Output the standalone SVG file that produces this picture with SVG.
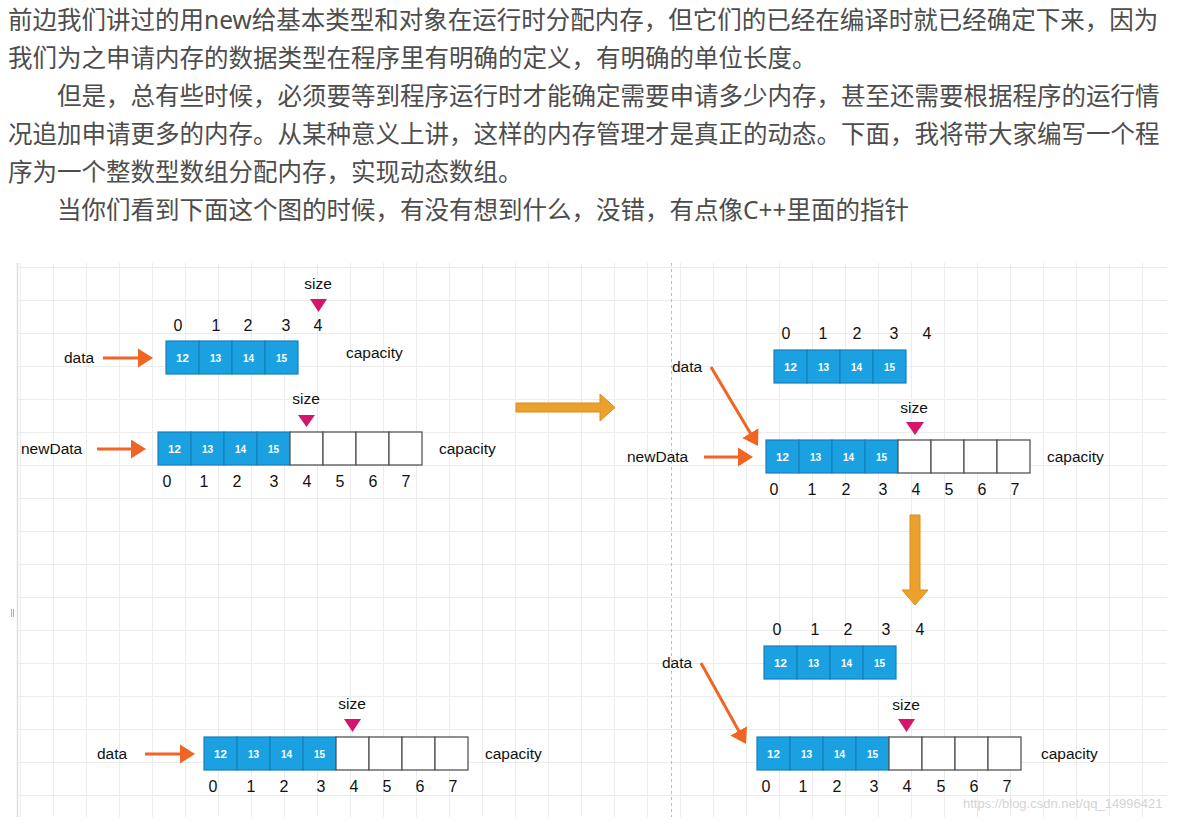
<svg xmlns="http://www.w3.org/2000/svg" width="1184" height="836" viewBox="0 0 1184 836">
<style>
.para{font-family:"Noto Sans","Noto Sans CJK SC",sans-serif;font-size:24.5px;fill:#4d4d4d}
.lbl{font-family:"Liberation Sans",Arial,sans-serif;font-size:15.5px;fill:#111}
.idx{font-family:"Liberation Sans",Arial,sans-serif;font-size:16px;fill:#111;text-anchor:middle}
.cell{fill:#1ba1e2;stroke:#1481bd;stroke-width:1.2}
.empty{fill:#fff;stroke:#555;stroke-width:1.3}
.num{font-family:"Liberation Sans",Arial,sans-serif;font-size:10px;fill:#fff;text-anchor:middle;font-weight:bold}
.num0{font-size:11.5px}
.tri{fill:#d4156b}
.ptr{stroke:#f06424;stroke-width:3;fill:none}
.big{fill:#eda12d;stroke:#d98c1c;stroke-width:1}
</style>
<defs>
<pattern id="grid" patternUnits="userSpaceOnUse" x="20" y="267" width="33" height="33">
<path d="M0.5 0 V33 M0 0.5 H33" stroke="#ececec" stroke-width="1" fill="none"/>
</pattern>
<marker id="oh" viewBox="0 -10 16 20" markerWidth="16" markerHeight="20" refX="6" refY="0" orient="auto" markerUnits="userSpaceOnUse">
<path d="M0,-9.5 L15,0 L0,9.5 z" fill="#f06424"/>
</marker>
</defs>
<rect width="1184" height="836" fill="#fff"/>

<g id="paragraph">
<text class="para" x="8" y="29">前边我们讲过的用new给基本类型和对象在运行时分配内存，但它们的已经在编译时就已经确定下来，因为</text>
<text class="para" x="8" y="67">我们为之申请内存的数据类型在程序里有明确的定义，有明确的单位长度。</text>
<text class="para" x="57" y="105">但是，总有些时候，必须要等到程序运行时才能确定需要申请多少内存，甚至还需要根据程序的运行情</text>
<text class="para" x="8" y="143">况追加申请更多的内存。从某种意义上讲，这样的内存管理才是真正的动态。下面，我将带大家编写一个程</text>
<text class="para" x="8" y="181">序为一个整数型数组分配内存，实现动态数组。</text>
<text class="para" x="57" y="219">当你们看到下面这个图的时候，有没有想到什么，没错，有点像C++里面的指针</text>
</g>

<g id="canvas">
<rect x="17" y="263" width="1150" height="554" fill="url(#grid)"/>
<line x1="17.5" y1="263" x2="17.5" y2="817" stroke="#dcdcdc" stroke-width="1.5"/>
<line x1="671.5" y1="263" x2="671.5" y2="817" stroke="#bdbdbd" stroke-width="1" stroke-dasharray="3,3"/>
<path d="M11.5 609 V617 M13.5 609 V617" stroke="#999" stroke-width="0.8"/>
</g>

<!-- Panel 1: top-left -->
<g id="p1-data-array">
<text class="idx" x="178" y="331">0</text><text class="idx" x="216" y="331">1</text><text class="idx" x="248" y="331">2</text><text class="idx" x="286" y="331">3</text><text class="idx" x="318" y="331">4</text>
<text class="lbl" x="318" y="289" text-anchor="middle">size</text>
<polygon class="tri" points="310,299 327,299 318.5,312"/>
<rect class="cell" x="166" y="341" width="33" height="33"/><rect class="cell" x="199" y="341" width="33" height="33"/><rect class="cell" x="232" y="341" width="33" height="33"/><rect class="cell" x="265" y="341" width="33" height="33"/>
<text class="num num0" x="182.5" y="362">12</text><text class="num" x="215.5" y="361.5">13</text><text class="num" x="248.5" y="361.5">14</text><text class="num" x="281.5" y="361.5">15</text>
<text class="lbl" x="346" y="358">capacity</text>
</g>
<g id="p1-data-label"><text class="lbl" x="64" y="363">data</text></g>

<g id="p1-newdata-array">
<text class="lbl" x="306" y="404" text-anchor="middle">size</text>
<polygon class="tri" points="298,415 315,415 306.5,427"/>
<rect class="cell" x="158" y="432" width="33" height="33"/><rect class="cell" x="191" y="432" width="33" height="33"/><rect class="cell" x="224" y="432" width="33" height="33"/><rect class="cell" x="257" y="432" width="33" height="33"/>
<rect class="empty" x="290" y="432" width="33" height="33"/><rect class="empty" x="323" y="432" width="33" height="33"/><rect class="empty" x="356" y="432" width="33" height="33"/><rect class="empty" x="389" y="432" width="33" height="33"/>
<text class="num num0" x="174.5" y="453">12</text><text class="num" x="207.5" y="452.5">13</text><text class="num" x="240.5" y="452.5">14</text><text class="num" x="273.5" y="452.5">15</text>
<text class="idx" x="167" y="487">0</text><text class="idx" x="204" y="487">1</text><text class="idx" x="237" y="487">2</text><text class="idx" x="274" y="487">3</text><text class="idx" x="307" y="487">4</text><text class="idx" x="340" y="487">5</text><text class="idx" x="373" y="487">6</text><text class="idx" x="406" y="487">7</text>
<text class="lbl" x="439" y="454">capacity</text>
</g>
<g id="p1-newdata-label"><text class="lbl" x="21" y="454">newData</text></g>

<!-- Panel 2: top-right -->
<g id="p2-old-array">
<text class="idx" x="786" y="339">0</text><text class="idx" x="823" y="339">1</text><text class="idx" x="857" y="339">2</text><text class="idx" x="894" y="339">3</text><text class="idx" x="927" y="339">4</text>
<rect class="cell" x="774" y="350" width="33" height="33"/><rect class="cell" x="807" y="350" width="33" height="33"/><rect class="cell" x="840" y="350" width="33" height="33"/><rect class="cell" x="873" y="350" width="33" height="33"/>
<text class="num num0" x="790.5" y="371">12</text><text class="num" x="823.5" y="370.5">13</text><text class="num" x="856.5" y="370.5">14</text><text class="num" x="889.5" y="370.5">15</text>
</g>
<g id="p2-data-label"><text class="lbl" x="672" y="372">data</text></g>
<g id="p2-new-array">
<text class="lbl" x="914" y="413" text-anchor="middle">size</text>
<polygon class="tri" points="906,422 924,422 915,435"/>
<rect class="cell" x="766" y="440" width="33" height="33"/><rect class="cell" x="799" y="440" width="33" height="33"/><rect class="cell" x="832" y="440" width="33" height="33"/><rect class="cell" x="865" y="440" width="33" height="33"/>
<rect class="empty" x="898" y="440" width="33" height="33"/><rect class="empty" x="931" y="440" width="33" height="33"/><rect class="empty" x="964" y="440" width="33" height="33"/><rect class="empty" x="997" y="440" width="33" height="33"/>
<text class="num num0" x="782.5" y="461">12</text><text class="num" x="815.5" y="460.5">13</text><text class="num" x="848.5" y="460.5">14</text><text class="num" x="881.5" y="460.5">15</text>
<text class="idx" x="774" y="495">0</text><text class="idx" x="812" y="495">1</text><text class="idx" x="846" y="495">2</text><text class="idx" x="883" y="495">3</text><text class="idx" x="916" y="495">4</text><text class="idx" x="949" y="495">5</text><text class="idx" x="982" y="495">6</text><text class="idx" x="1015" y="495">7</text>
<text class="lbl" x="1047" y="462">capacity</text>
</g>
<g id="p2-newdata-label"><text class="lbl" x="627" y="462">newData</text></g>

<!-- Panel 3: bottom-right -->
<g id="p3-old-array">
<text class="idx" x="777" y="635">0</text><text class="idx" x="815" y="635">1</text><text class="idx" x="848" y="635">2</text><text class="idx" x="886" y="635">3</text><text class="idx" x="920" y="635">4</text>
<rect class="cell" x="764" y="646" width="33" height="33"/><rect class="cell" x="797" y="646" width="33" height="33"/><rect class="cell" x="830" y="646" width="33" height="33"/><rect class="cell" x="863" y="646" width="33" height="33"/>
<text class="num num0" x="780.5" y="667">12</text><text class="num" x="813.5" y="666.5">13</text><text class="num" x="846.5" y="666.5">14</text><text class="num" x="879.5" y="666.5">15</text>
</g>
<g id="p3-data-label"><text class="lbl" x="662" y="668">data</text></g>
<g id="p3-new-array">
<text class="lbl" x="906" y="710" text-anchor="middle">size</text>
<polygon class="tri" points="898,719 915,719 906.5,732"/>
<rect class="cell" x="757" y="737" width="33" height="33"/><rect class="cell" x="790" y="737" width="33" height="33"/><rect class="cell" x="823" y="737" width="33" height="33"/><rect class="cell" x="856" y="737" width="33" height="33"/>
<rect class="empty" x="889" y="737" width="33" height="33"/><rect class="empty" x="922" y="737" width="33" height="33"/><rect class="empty" x="955" y="737" width="33" height="33"/><rect class="empty" x="988" y="737" width="33" height="33"/>
<text class="num num0" x="773.5" y="758">12</text><text class="num" x="806.5" y="757.5">13</text><text class="num" x="839.5" y="757.5">14</text><text class="num" x="872.5" y="757.5">15</text>
<text class="idx" x="766" y="792">0</text><text class="idx" x="803" y="792">1</text><text class="idx" x="837" y="792">2</text><text class="idx" x="874" y="792">3</text><text class="idx" x="907" y="792">4</text><text class="idx" x="941" y="792">5</text><text class="idx" x="974" y="792">6</text><text class="idx" x="1007" y="792">7</text>
<text class="lbl" x="1041" y="759">capacity</text>
</g>

<!-- Panel 4: bottom-left -->
<g id="p4-array">
<text class="lbl" x="352" y="709" text-anchor="middle">size</text>
<polygon class="tri" points="344,719 361,719 352.5,732"/>
<rect class="cell" x="204" y="737" width="33" height="33"/><rect class="cell" x="237" y="737" width="33" height="33"/><rect class="cell" x="270" y="737" width="33" height="33"/><rect class="cell" x="303" y="737" width="33" height="33"/>
<rect class="empty" x="336" y="737" width="33" height="33"/><rect class="empty" x="369" y="737" width="33" height="33"/><rect class="empty" x="402" y="737" width="33" height="33"/><rect class="empty" x="435" y="737" width="33" height="33"/>
<text class="num num0" x="220.5" y="758">12</text><text class="num" x="253.5" y="757.5">13</text><text class="num" x="286.5" y="757.5">14</text><text class="num" x="319.5" y="757.5">15</text>
<text class="idx" x="213" y="792">0</text><text class="idx" x="251" y="792">1</text><text class="idx" x="284" y="792">2</text><text class="idx" x="321" y="792">3</text><text class="idx" x="354" y="792">4</text><text class="idx" x="387" y="792">5</text><text class="idx" x="420" y="792">6</text><text class="idx" x="453" y="792">7</text>
<text class="lbl" x="485" y="759">capacity</text>
</g>
<g id="p4-data-label"><text class="lbl" x="97" y="759">data</text></g>

<g id="connectors">
<line class="ptr" x1="103" y1="358" x2="144" y2="358" marker-end="url(#oh)"/>
<line class="ptr" x1="97" y1="449" x2="137" y2="449" marker-end="url(#oh)"/>
<line class="ptr" x1="704" y1="457" x2="744" y2="457" marker-end="url(#oh)"/>
<line class="ptr" x1="711" y1="367" x2="753.4" y2="438.3" marker-end="url(#oh)"/>
<line class="ptr" x1="701" y1="663" x2="741.6" y2="736.1" marker-end="url(#oh)"/>
<line class="ptr" x1="145" y1="754" x2="186" y2="754" marker-end="url(#oh)"/>
<polygon class="big" points="516,403 600,403 600,394 615,407.5 600,421 600,412 516,412"/>
<polygon class="big" points="910,515 920,515 920,590 928,590 915,605 902,590 910,590"/>
</g>

<text x="963" y="808" font-family="Liberation Sans,Arial,sans-serif" font-size="13" fill="#d4d4d4">https://blog.csdn.net/qq_14996421</text>
</svg>
